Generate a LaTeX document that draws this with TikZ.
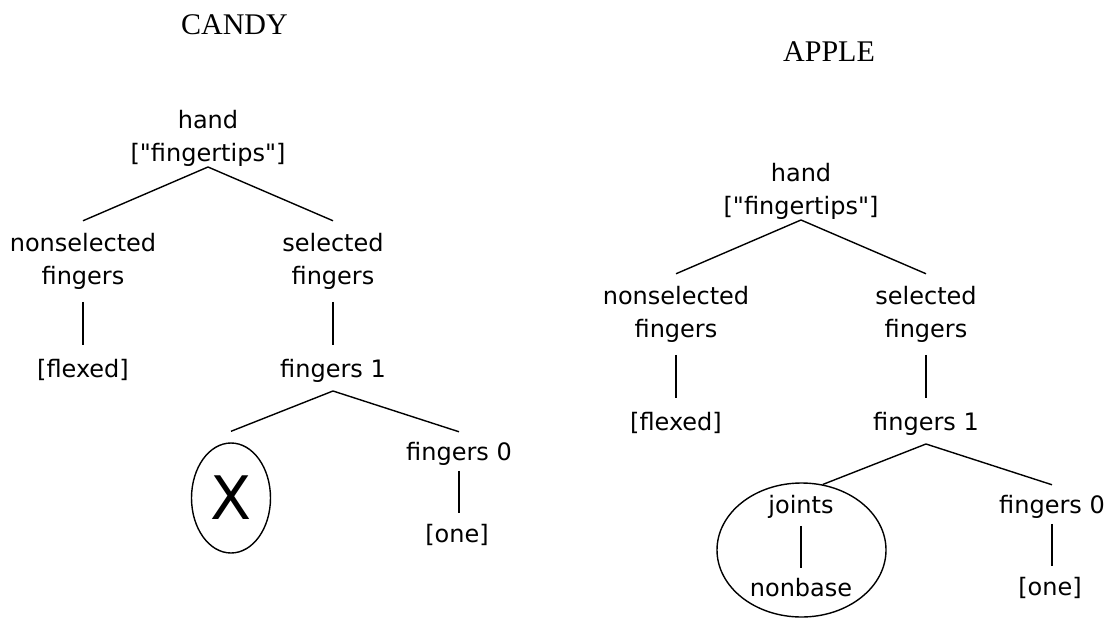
\documentclass[tikz,border=0pt]{standalone}
\usepackage{fontspec}
\setmainfont{Liberation Serif}
\newfontfamily\lblfont{DejaVu Sans}
\usetikzlibrary{shapes.geometric}
\tikzset{
  lbl/.style={anchor=base, inner sep=0pt, outer sep=0pt, align=center,
    font=\lblfont\fontsize{24}{33}\selectfont},
  ttl/.style={anchor=base, inner sep=0pt, font=\fontsize{30}{36}\selectfont},
  edge/.style={line width=1.4pt, line cap=butt},
  ring/.style={ellipse, draw, line width=1.4pt, inner sep=0pt}
}
\begin{document}
\begin{tikzpicture}[x=1pt,y=-1pt]
\useasboundingbox (0,0) rectangle (1113,618);
\node[ttl] (candy) at (234.5,35) {CANDY};
\node[ttl] (apple) at (829,62) {APPLE};
% left tree
\node[lbl] (hand) at (208,161) {hand\\\relax["fingertips"]};
\node[lbl] (nsf) at (83,284) {nonselected\\fingers};
\node[lbl] (sf) at (333,284) {selected\\fingers};
\node[lbl] (flex) at (83,377) {[flexed]};
\node[lbl] (fo) at (333,377) {fingers 1};
\node[ring, minimum width=79pt, minimum height=110pt, font=\lblfont\fontsize{60}{66}\selectfont] (x) at (231,498) {X};
\node[lbl] (fz) at (459,460) {fingers 0};
\node[lbl] (one) at (457,542) {[one]};
\draw[edge] ([yshift=-1pt]hand.south) -- ([yshift=12pt]nsf.north);
\draw[edge] ([yshift=-1pt]hand.south) -- ([yshift=12pt]sf.north);
\draw[edge] ([yshift=-13pt]nsf.south) -- ([yshift=14pt]flex.north);
\draw[edge] ([yshift=-13pt]sf.south) -- ([yshift=14pt]fo.north);
\draw[edge] ([yshift=-9pt]fo.south) -- ([yshift=11pt]x.north);
\draw[edge] ([yshift=-9pt]fo.south) -- ([yshift=10pt]fz.north);
\draw[edge] ([yshift=-6pt]fz.south) -- ([yshift=11pt]fz.south |- one.north);
% right tree
\begin{scope}[shift={(593,53)}]
\node[lbl] (handR) at (208,161) {hand\\\relax["fingertips"]};
\node[lbl] (nsfR) at (83,284) {nonselected\\fingers};
\node[lbl] (sfR) at (333,284) {selected\\fingers};
\node[lbl] (flexR) at (83,377) {[flexed]};
\node[lbl] (foR) at (333,377) {fingers 1};
\node[lbl] (joints) at (208,460) {joints};
\node[lbl] (nonbase) at (208,543) {nonbase};
\node[ring, minimum width=169pt, minimum height=134pt] (ring) at (208.5,497) {};
\node[lbl] (fzR) at (459,460) {fingers 0};
\node[lbl] (oneR) at (457,542) {[one]};
\end{scope}
\draw[edge] ([yshift=-1pt]handR.south) -- ([yshift=12pt]nsfR.north);
\draw[edge] ([yshift=-1pt]handR.south) -- ([yshift=12pt]sfR.north);
\draw[edge] ([yshift=-13pt]nsfR.south) -- ([yshift=14pt]flexR.north);
\draw[edge] ([yshift=-13pt]sfR.south) -- ([yshift=14pt]foR.north);
\draw[edge] ([yshift=-9pt]foR.south) -- (ring.72);
\draw[edge] ([yshift=-9pt]foR.south) -- ([yshift=10pt]fzR.north);
\draw[edge] ([yshift=-6pt]fzR.south) -- ([yshift=11pt]fzR.south |- oneR.north);
\draw[edge] ([yshift=-8pt]joints.south) -- ([yshift=10pt]nonbase.north);
\end{tikzpicture}
\end{document}
